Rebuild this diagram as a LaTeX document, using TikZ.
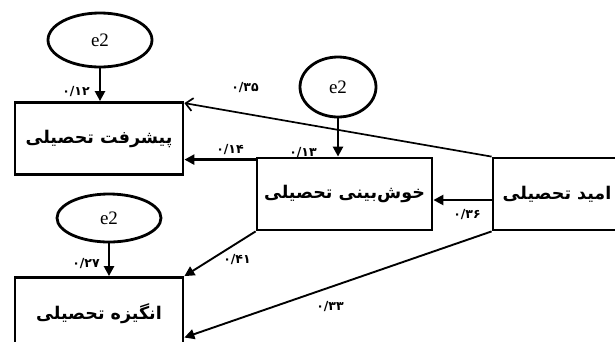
\documentclass[tikz,border=0pt]{standalone}
\usepackage{fontspec}
\setmainfont{Liberation Serif}
\newfontfamily\farsi[Script=Arabic]{DejaVu Sans}
\TeXXeTstate=1
\usetikzlibrary{arrows.meta,shapes.geometric}

\tikzset{
    var/.style={draw, line width=2.8pt, minimum width=168pt, minimum height=72pt,
        inner sep=0pt, font=\farsi\bfseries\fontsize{17.5}{20}\selectfont},
    err/.style={draw, ellipse, line width=2.8pt, inner sep=0pt, minimum width=104pt,
        minimum height=54pt, font=\fontsize{19}{22}\selectfont},
    lab/.style={inner sep=0pt, font=\farsi\bfseries\fontsize{12.5}{14}\selectfont},
    arr/.style={line width=2.4pt, -{Triangle[length=10pt,width=10pt]}},
}

\begin{document}
\begin{tikzpicture}[x=1pt, y=-1pt]
        \useasboundingbox (0,0) rectangle (615,341);
        \clip (0,0) rectangle (615,341);

        % Nodes
        \node[err] (e1) at (100,40) {e2};
        \node[err, minimum width=76pt, minimum height=60pt] (e2) at (338,87) {e2};
        \node[err, minimum height=48pt] (e3) at (109,218) {e2};

        \node[var] (pish) at (99,138.5) {\beginR پیشرفت تحصیلی\endR};
        \node[var, minimum width=175pt] (khosh) at (344.5,194) {\beginR خوش‌بینی تحصیلی\endR};
        \node[var] (angiz) at (99,313.5) {\beginR انگیزه تحصیلی\endR};
        \node[var, minimum width=128pt] (omid) at (557,194) {\beginR امید تحصیلی\endR};

        \coordinate (k1) at ([yshift=-3pt]khosh.north west);
        \coordinate (o1) at ([yshift=-6pt]omid.west);
        \coordinate (a1) at ([yshift=-24pt]angiz.east);

        % Edges
        \draw[arr] (e1.south) -- (e1.south |- pish.north);
        \draw[arr] (e2.south) -- (e2.south |- khosh.north);
        \draw[arr] (e3.south) -- (e3.south |- angiz.north);
        \draw[line width=1.7pt, -{Straight Barb[length=7pt,width=13pt]}]
            (omid.north west) -- ([yshift=-2pt]pish.north east);
        \draw[arr] (k1) -- (k1 -| pish.east);
        \draw[arr] (o1) -- (o1 -| khosh.east);
        \draw[arr, line width=1.9pt] (khosh.south west) -- (angiz.north east);
        \draw[arr, line width=1.9pt] (omid.south west) -- (a1);

        % Path coefficients
        \node[lab] (l12) at (76,92) {۰/۱۲};
        \node[lab] (l13) at (303,153) {۰/۱۳};
        \node[lab] (l27) at (86,264) {۰/۲۷};
        \node[lab] (l35) at (245,88) {۰/۳۵};
        \node[lab] (l14) at (230,150) {۰/۱۴};
        \node[lab] (l41) at (237,260) {۰/۴۱};
        \node[lab] (l36) at (467,215) {۰/۳۶};
        \node[lab] (l33) at (330,307) {۰/۳۳};
    \end{tikzpicture}
\end{document}
